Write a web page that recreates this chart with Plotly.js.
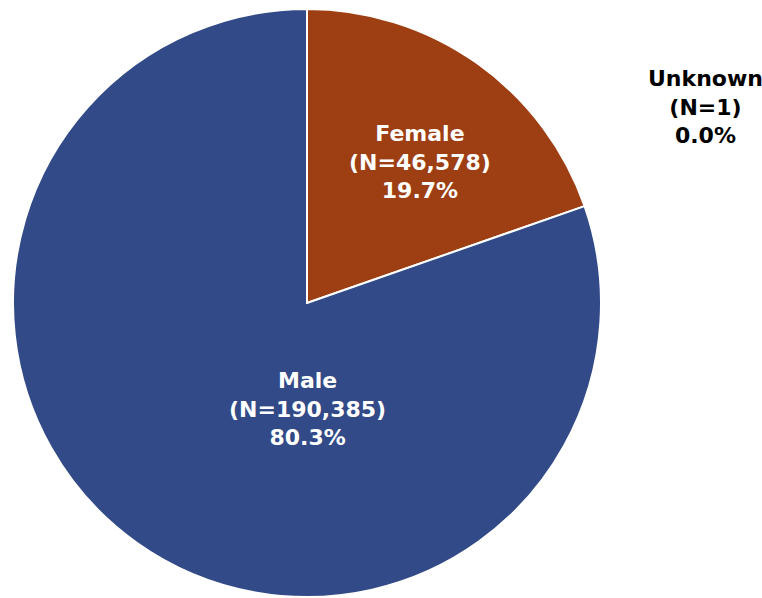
<!DOCTYPE html>
<html>
<head>
<meta charset="utf-8">
<script src="https://cdn.plot.ly/plotly-3.0.1.min.js"></script>
<style>html,body{margin:0;padding:0;background:#fff;}#chart{width:762px;height:598px;}</style>
</head>
<body>
<div id="chart"></div>
<script>
const categories = ['Female', 'Male', 'Unknown'];
const counts = [46578, 190385, 1];
const percentLabels = ['19.7%', '80.3%', '0.0%'];
const colors = ['#9e3e13', '#324a87', '#7f7f7f'];

function labelText(i) {
  return categories[i] + '<br>(N=' + counts[i].toLocaleString('en-US') + ')<br>' + percentLabels[i];
}

const fontFam = 'DejaVu Sans, Verdana, sans-serif';

const trace = {
  type: 'pie',
  labels: categories,
  values: counts,
  sort: false,
  direction: 'clockwise',
  rotation: 0,
  textinfo: 'none',
  hoverinfo: 'label+value+percent',
  marker: { colors: colors, line: { color: '#ffffff', width: 2 } },
  domain: { x: [13/762, 601/762], y: [1 - 597/598, 1 - 9/598] },
  showlegend: false
};

const annPos = [
  { x: 420, y: 162, color: '#ffffff' },
  { x: 307, y: 409, color: '#ffffff' },
  { x: 705, y: 107, color: '#000000' }
];

const annotations = categories.map((c, i) => ({
  text: labelText(i),
  x: annPos[i].x / 762,
  y: 1 - annPos[i].y / 598,
  xref: 'paper', yref: 'paper',
  showarrow: false,
  xanchor: 'center', yanchor: 'middle',
  align: 'center',
  font: { family: fontFam, size: 22, color: annPos[i].color, weight: 'bold' }
}));

const layout = {
  width: 762, height: 598,
  margin: { l: 0, r: 0, t: 0, b: 0 },
  paper_bgcolor: '#ffffff',
  annotations: annotations
};

Plotly.newPlot('chart', [trace], layout, { displayModeBar: false, staticPlot: true });
</script>
</body>
</html>
